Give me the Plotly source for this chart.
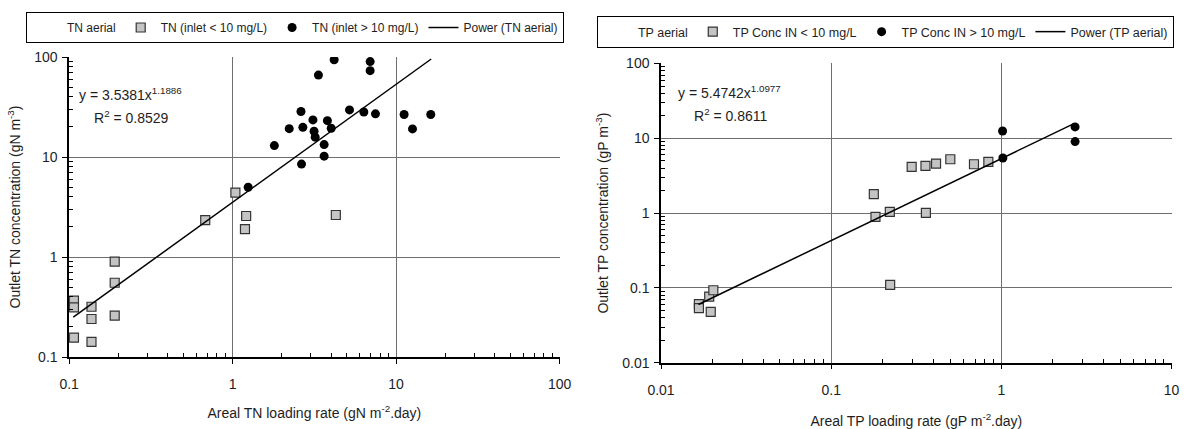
import plotly.graph_objects as go

# --- TN panel (left) ---
tn_low_x = [0.107, 0.107, 0.107, 0.137, 0.137, 0.137, 0.19, 0.19, 0.19, 0.68, 1.04, 1.21, 1.19, 4.28]
tn_low_y = [0.366, 0.314, 0.156, 0.318, 0.24, 0.142, 0.90, 0.553, 0.259, 2.34, 4.4, 2.57, 1.9, 2.63]

tn_high_x = [1.245, 1.80, 2.22, 2.62, 2.69, 2.64, 3.10, 3.15, 3.20, 3.35, 3.63, 3.63,
             3.80, 4.01, 4.18, 5.19, 6.35, 6.94, 6.94, 7.48, 11.2, 12.6, 16.3]
tn_high_y = [4.98, 13.0, 19.2, 28.5, 19.8, 8.5, 23.5, 18.1, 15.8, 66, 13.3, 10.2,
             23.1, 19.4, 94, 29.6, 28.2, 90, 73, 27, 26.6, 19.1, 26.6]

tn_trend_x = [0.106, 16.4]
tn_trend_y = [0.25, 95.5]

# --- TP panel (right) ---
tp_low_x = [0.0167, 0.0167, 0.0192, 0.0203, 0.0196, 0.182, 0.221, 0.36, 0.222,
            0.178, 0.297, 0.358, 0.413, 0.501, 0.69, 0.838]
tp_low_y = [0.0606, 0.0536, 0.0766, 0.093, 0.0479, 0.893, 1.04, 1.01, 0.11,
            1.79, 4.14, 4.27, 4.59, 5.25, 4.5, 4.83]

tp_high_x = [1.016, 1.02, 2.71, 2.71]
tp_high_y = [12.5, 5.46, 14.2, 9.04]

tp_trend_x = [0.0166, 2.65]
tp_trend_y = [0.060, 15.6]

tn_ticks = [0.1, 1, 10, 100]
tn_labels = ['0.1', '1', '10', '100']
tp_x_ticks = [0.01, 0.1, 1, 10]
tp_x_labels = ['0.01', '0.1', '1', '10']
tp_y_ticks = [0.01, 0.1, 1, 10, 100]
tp_y_labels = ['0.01', '0.1', '1', '10', '100']

FONT = 'Liberation Sans, Arial, sans-serif'
TXT = '#1e1e1e'

square = dict(symbol='square', size=9, color='#c4c4c4', line=dict(color='#333333', width=1.2))
dot = dict(symbol='circle', size=9, color='black')
hidden = dict(color='rgba(0,0,0,0)', size=1, line=dict(width=0))

fig = go.Figure()

# left
fig.add_trace(go.Scatter(x=tn_low_x + tn_high_x, y=tn_low_y + tn_high_y, mode='markers', marker=hidden,
                         name='TN aerial', legend='legend', xaxis='x', yaxis='y', hoverinfo='skip'))
fig.add_trace(go.Scatter(x=tn_low_x, y=tn_low_y, mode='markers', marker=square,
                         name='TN (inlet < 10 mg/L)', legend='legend', xaxis='x', yaxis='y'))
fig.add_trace(go.Scatter(x=tn_high_x, y=tn_high_y, mode='markers', marker=dot,
                         name='TN (inlet > 10 mg/L)', legend='legend', xaxis='x', yaxis='y'))
fig.add_trace(go.Scatter(x=tn_trend_x, y=tn_trend_y, mode='lines', line=dict(color='black', width=1.5),
                         name='Power (TN aerial)', legend='legend', xaxis='x', yaxis='y'))

# right
fig.add_trace(go.Scatter(x=tp_low_x + tp_high_x, y=tp_low_y + tp_high_y, mode='markers', marker=hidden,
                         name='TP aerial', legend='legend2', xaxis='x2', yaxis='y2', hoverinfo='skip'))
fig.add_trace(go.Scatter(x=tp_low_x, y=tp_low_y, mode='markers', marker=square,
                         name='TP Conc IN < 10 mg/L', legend='legend2', xaxis='x2', yaxis='y2'))
fig.add_trace(go.Scatter(x=tp_high_x, y=tp_high_y, mode='markers', marker=dot,
                         name='TP Conc IN > 10 mg/L', legend='legend2', xaxis='x2', yaxis='y2'))
fig.add_trace(go.Scatter(x=tp_trend_x, y=tp_trend_y, mode='lines', line=dict(color='black', width=1.5),
                         name='Power (TP aerial)', legend='legend2', xaxis='x2', yaxis='y2'))


def minor_vals(ticks):
    # 2..9 between each pair of decades
    return [m * t for t in ticks[:-1] for m in range(2, 10)]


def log_axis(domain, rng, ticks, labels, title, title_standoff, label_standoff, anchor):
    return dict(type='log', domain=domain, range=rng, anchor=anchor,
                tickmode='array', tickvals=ticks, ticktext=labels,
                showline=True, linecolor='black', linewidth=1.5, mirror=False,
                ticks='outside', ticklen=5, tickcolor='black', tickwidth=1,
                showgrid=True, gridcolor='#6e6e6e', gridwidth=1, zeroline=False,
                minor=dict(tickmode='array', tickvals=minor_vals(ticks), ticks='inside', ticklen=4,
                           tickcolor='black', tickwidth=1, showgrid=False),
                tickfont=dict(family=FONT, size=14, color=TXT), ticklabelstandoff=label_standoff,
                title=dict(text=title, font=dict(family=FONT, size=14, color=TXT), standoff=title_standoff))


fig.update_layout(
    width=1188, height=429,
    template='none',
    paper_bgcolor='white', plot_bgcolor='white',
    margin=dict(l=0, r=0, t=0, b=0),
    font=dict(family=FONT, size=14, color=TXT),
    xaxis=log_axis([0.0582, 0.471], [-1, 2], tn_ticks, tn_labels,
                   'Areal TN loading rate (gN m<sup>-2</sup>.day)', 18, 8, 'y'),
    yaxis=log_axis([0.1678, 0.8671], [-1, 2], tn_ticks, tn_labels,
                   'Outlet TN concentration (gN m<sup>-3</sup>)', 10, 2, 'x'),
    xaxis2=log_axis([0.5564, 0.9862], [-2, 1], tp_x_ticks, tp_x_labels,
                    'Areal TP loading rate (gP m<sup>-2</sup>.day)', 22, 9, 'y2'),
    yaxis2=log_axis([0.1545, 0.852], [-2, 2], tp_y_ticks, tp_y_labels,
                    'Outlet TP concentration (gP m<sup>-3</sup>)', 10, 2, 'x2'),
    legend=dict(orientation='h', x=0.0219, y=0.972, xanchor='left', yanchor='top',
                bordercolor='black', borderwidth=1, bgcolor='white', itemwidth=30,
                font=dict(family=FONT, size=12, color=TXT)),
    legend2=dict(orientation='h', x=0.5025, y=0.9627, xanchor='left', yanchor='top',
                 bordercolor='black', borderwidth=1, bgcolor='white', itemwidth=30,
                 font=dict(family=FONT, size=12.5, color=TXT)),
    annotations=[
        dict(text='y = 3.5381x<sup>1.1886</sup>', x=0.0648, y=0.781, xref='paper', yref='paper',
             xanchor='left', yanchor='middle', showarrow=False, font=dict(size=14)),
        dict(text='R<sup>2</sup> = 0.8529', x=0.0772, y=0.7273, xref='paper', yref='paper',
             xanchor='left', yanchor='middle', showarrow=False, font=dict(size=14)),
        dict(text='y = 5.4742x<sup>1.0977</sup>', x=0.569, y=0.7862, xref='paper', yref='paper',
             xanchor='left', yanchor='middle', showarrow=False, font=dict(size=14)),
        dict(text='R<sup>2</sup> = 0.8611', x=0.5822, y=0.7319, xref='paper', yref='paper',
             xanchor='left', yanchor='middle', showarrow=False, font=dict(size=14)),
    ],
)

fig.write_html('out.html', config={'displayModeBar': False},
               post_script="document.body.style.margin='0px';")
